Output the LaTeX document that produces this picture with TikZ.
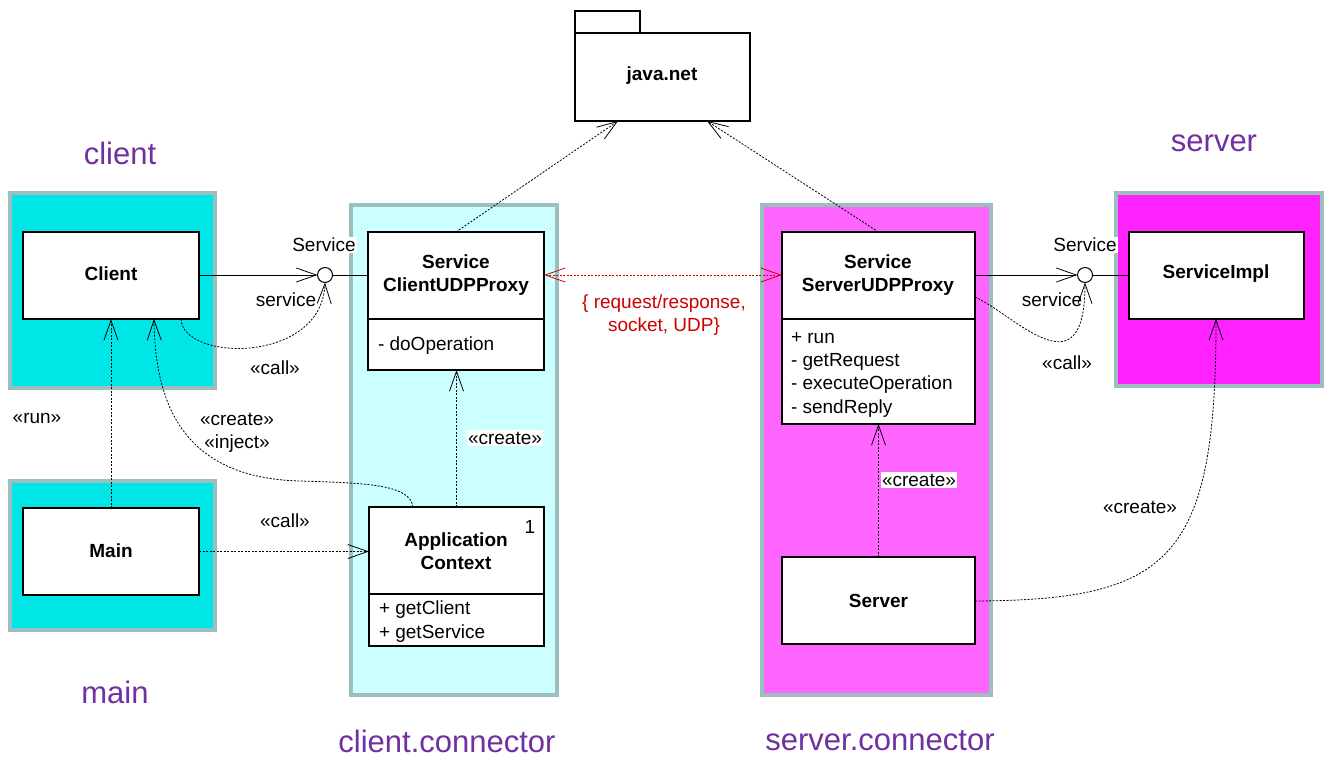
\documentclass[tikz,border=0pt]{standalone}
\usepackage{fontspec}
\setmainfont{Liberation Sans}
\usetikzlibrary{arrows.meta}
\definecolor{pkgborder}{HTML}{9BBFBF}
\definecolor{cyanA}{HTML}{00E6E6}
\definecolor{cyanB}{HTML}{CCFFFF}
\definecolor{magA}{HTML}{FF66FF}
\definecolor{magB}{HTML}{FF22FF}
\definecolor{purp}{HTML}{7030A0}
\definecolor{redc}{HTML}{CC0000}
\begin{document}
\begin{tikzpicture}[x=1pt,y=-1pt,
  every node/.style={inner sep=0pt,outer sep=0pt},
  txt/.style={font=\fontsize{19}{23.3}\selectfont},
  bold/.style={font=\fontsize{19}{23}\selectfont\bfseries, align=center},
  title/.style={font=\fontsize{31}{37}\selectfont, text=purp},
  pkg/.style={draw=pkgborder, line width=3.5pt, anchor=north west},
  cls/.style={draw=black, fill=white, line width=1.1pt, anchor=north west},
  barb/.style={-{Straight Barb[length=20pt,width=14pt,line width=0.8pt]}},
  dep/.style={draw=black, line width=0.8pt, dash pattern=on 2pt off 1.5pt, barb},
  reddep/.style={draw=redc, line width=0.8pt, dash pattern=on 2pt off 1.5pt,
     {Straight Barb[length=20pt,width=14pt,line width=0.8pt]}-{Straight Barb[length=20pt,width=14pt,line width=0.8pt]}},
  req/.style={draw=black, line width=0.9pt},
  lbl/.style={txt, fill=white, inner sep=1.5pt},
  lolli/.style={circle, draw=black, fill=white, line width=1pt, minimum size=15pt},
]
\useasboundingbox (0,0) rectangle (1324,758);
\fill[white] (0,0) rectangle (1324,758);

% packages
\node[pkg, fill=cyanA, minimum width=205pt, minimum height=195pt] (pClient) at (10,193) {};
\node[pkg, fill=cyanA, minimum width=205pt, minimum height=149pt] (pMain) at (10,481) {};
\node[pkg, fill=cyanB, minimum width=206pt, minimum height=490pt] (pCC) at (351,205) {};
\node[pkg, fill=magA, minimum width=229pt, minimum height=490pt] (pSC) at (762,205) {};
\node[pkg, fill=magB, minimum width=206pt, minimum height=193pt] (pServer) at (1116,193) {};

% package titles
\node[title] (tClient) at (120,153) {client};
\node[title] (tMain) at (115,692) {main};
\node[title] (tCC) at (447,741) {client.connector};
\node[title] (tSC) at (880,741) {server.connector};
\node[title] (tServer) at (1214,143) {server};

% java.net package
\node[cls, minimum width=65pt, minimum height=22pt] (jtab) at (575,11) {};
\node[cls, minimum width=175pt, minimum height=88pt] (jn) at (575,33) {};
\node[bold] (jnlabel) at (662,76) {java.net};

% classes
\node[cls, minimum width=176pt, minimum height=87pt] (client) at (23,232) {};
\node[bold] (clientT) at (111,274) {Client};
\node[cls, minimum width=176pt, minimum height=87pt] (main) at (23,508) {};
\node[bold] (mainT) at (111,551) {Main};

\node[cls, minimum width=176pt, minimum height=138pt] (cp) at (368,232) {};
\draw[line width=1.1pt] (368,319) -- (544,319);
\node[bold] (cpT) at (456,275) {Service\\ClientUDPProxy};
\node[txt, anchor=base west] (cpO) at (378,350) {- doOperation};

\node[cls, minimum width=175pt, minimum height=139pt] (ac) at (369,507) {};
\draw[line width=1.1pt] (369,594) -- (544,594);
\node[bold] (acT) at (456,551) {Application\\Context};
\node[txt] (acM) at (530,527) {1};
\node[txt, anchor=base west] (acO1) at (379,614) {+ getClient};
\node[txt, anchor=base west] (acO2) at (379,638) {+ getService};

\node[cls, minimum width=193pt, minimum height=192pt] (sp) at (782,232) {};
\draw[line width=1.1pt] (782,319) -- (975,319);
\node[bold] (spT) at (878,275) {Service\\ServerUDPProxy};
\node[txt, anchor=base west] (spO1) at (791,343) {+ run};
\node[txt, anchor=base west] (spO2) at (791,366) {- getRequest};
\node[txt, anchor=base west] (spO3) at (791,389) {- executeOperation};
\node[txt, anchor=base west] (spO4) at (791,413) {- sendReply};

\node[cls, minimum width=193pt, minimum height=87pt] (server) at (782,557) {};
\node[bold] (serverT) at (server.center) {Server};

\node[cls, minimum width=175pt, minimum height=87pt] (impl) at (1129,232) {};
\node[bold] (implT) at (1216,274) {ServiceImpl};

% lollipops
\node[lolli] (lolL) at (325,275) {};
\node[lolli] (lolR) at (1085,275) {};

% coordinates for connector ends
\coordinate (cs) at (181,319);
\coordinate (ss) at (975,297);
\coordinate (jnL) at (618,121);
\coordinate (jnR) at (707,121);
\coordinate (ciS) at (154,319);
\coordinate (acS) at (413,507);
\coordinate (srvS) at (975,601);
\coordinate (implS) at (1216,319);

% interfaces
\draw[req, barb] (lolL -| client.east) -- (lolL.west);
\draw[req] (lolL.east) -- (lolL -| cp.west);
\draw[req, barb] (lolR -| sp.east) -- (lolR.west);
\draw[req] (lolR.east) -- (lolR -| impl.west);

% red connector
\draw[reddep] (lolL -| cp.east) -- (lolL -| sp.west);
\node[txt, text=redc, align=center] (udp) at (664,315) {\{ request/response,\\socket, UDP\}};

% dependencies
\draw[dep] (cs) .. controls (183,362) and (322,364) .. (lolL.south);
\draw[dep] (ss) .. controls (1015,315) and (1085,395) .. (lolR.south);
\draw[dep] (cp.north) -- (jnL);
\draw[dep] (sp.north) -- (jnR);
\draw[dep] (main.north) -- (main.north |- client.south);
\draw[dep] (main.east) -- (main.east -| ac.west);
\draw[dep] (ac.north) -- (ac.north |- cp.south);
\draw[dep] (server.north) -- (server.north |- sp.south);
\draw[dep] (acS) .. controls (410,485) and (370,483) .. (300,481)
              .. controls (180,478) and (155,400) .. (ciS);
\draw[dep] (srvS) .. controls (1170,600) and (1216,560) .. (implS);

% labels
\node[lbl] (lSvcL) at (324,245) {Service};
\node[txt] (lsvcL) at (286,300) {service};
\node[txt] (lcallL) at (275,368) {«call»};
\node[lbl] (lSvcR) at (1085,245) {Service};
\node[txt] (lsvcR) at (1052,300) {service};
\node[txt] (lcallR) at (1067,363) {«call»};
\node[lbl] (lcrCP) at (505,438) {«create»};
\node[lbl] (lcrSP) at (919,480) {«create»};
\node[txt] (lcrImpl) at (1140,507) {«create»};
\node[txt] (lrun) at (37,418) {«run»};
\node[txt, align=center] (lci) at (237,433) {«create»\\«inject»};
\node[txt] (lcallM) at (285,521) {«call»};
\end{tikzpicture}
\end{document}
